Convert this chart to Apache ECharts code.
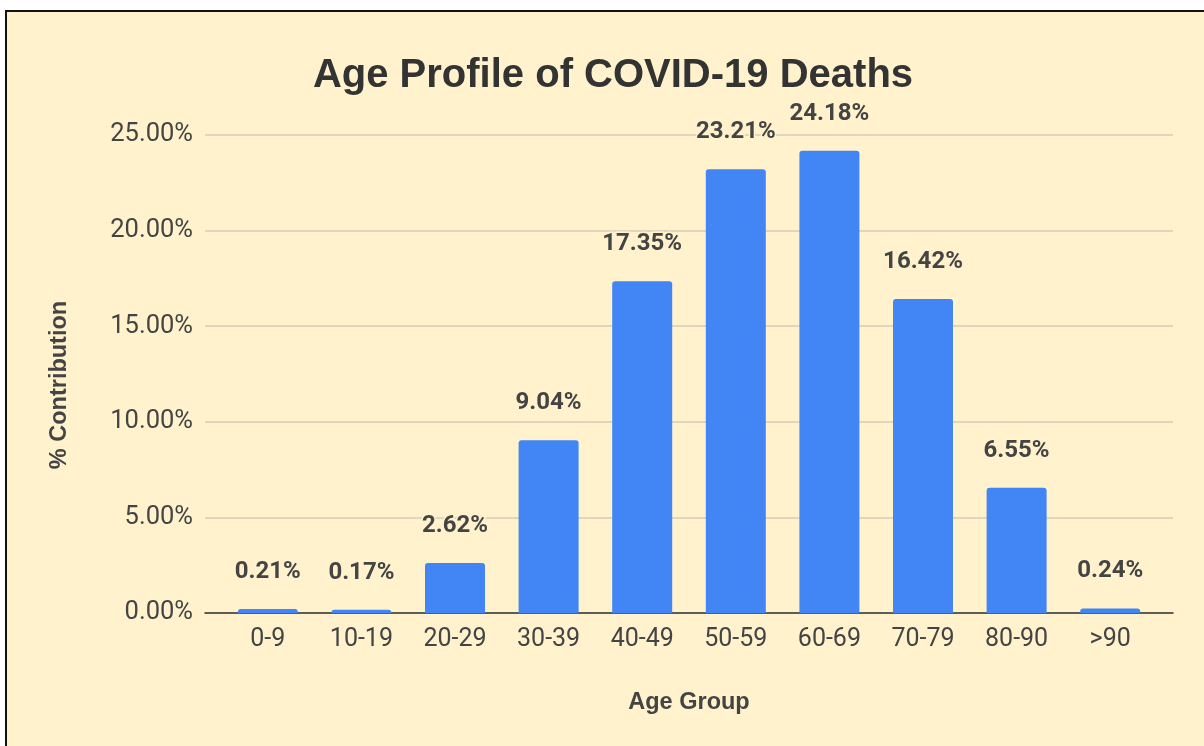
<!DOCTYPE html>
<html>
<head>
<meta charset="utf-8">
<script src="https://cdn.jsdelivr.net/npm/echarts@6/dist/echarts.min.js"></script>
<style>
  html, body { margin: 0; padding: 0; background: #ffffff; width: 1204px; height: 746px; overflow: hidden; }
  #bg { position: absolute; left: 5px; top: 10px; width: 1199px; height: 736px; background: #FFF2CC; border-left: 2px solid #111; border-top: 2px solid #111; box-sizing: border-box; }
  #chart { position: absolute; left: 0; top: 0; width: 1204px; height: 746px; }
</style>
</head>
<body>
<div id="bg"></div>
<div id="chart"></div>
<script>
const categories = ['0-9', '10-19', '20-29', '30-39', '40-49', '50-59', '60-69', '70-79', '80-90', '>90'];
const values = [0.21, 0.17, 2.62, 9.04, 17.35, 23.21, 24.18, 16.42, 6.55, 0.24];
const yTicks = [0, 5, 10, 15, 20, 25];

const chart = echarts.init(document.getElementById('chart'), null, { renderer: 'canvas' });
const yMin = yTicks[0], yMax = yTicks[yTicks.length - 1], yStep = yTicks[1] - yTicks[0];

chart.setOption({
  backgroundColor: 'transparent',
  animation: false,
  title: {
    text: 'Age Profile of COVID-19 Deaths',
    left: 608, top: 51, textAlign: 'center',
    textStyle: { fontFamily: 'Liberation Sans, Arial, sans-serif', fontWeight: 'bold', fontSize: 40, color: '#333333' }
  },
  grid: [
    { left: 205, right: 31, top: 135, bottom: 133 },
    { left: 221, right: 47, top: 135, bottom: 133 }
  ],
  xAxis: [
    { gridIndex: 0, type: 'category', data: [''], axisLine: { show: true, lineStyle: { color: '#333333', width: 1.5 } },
      axisTick: { show: false }, axisLabel: { show: false }, splitLine: { show: false } },
    { gridIndex: 1, type: 'category', data: categories,
      axisLine: { show: false }, axisTick: { show: false },
      axisLabel: { margin: 14, fontFamily: 'Roboto, sans-serif', fontSize: 25, color: '#444444' },
      name: 'Age Group', nameLocation: 'middle', nameGap: 78,
      nameTextStyle: { fontFamily: 'Liberation Sans, Arial, sans-serif', fontWeight: 'bold', fontSize: 23.5, color: '#444444' } }
  ],
  yAxis: [
    { gridIndex: 0, type: 'value', min: yMin, max: yMax, interval: yStep,
      axisLine: { show: false }, axisTick: { show: false },
      axisLabel: { margin: 12, fontFamily: 'Roboto, sans-serif', fontSize: 25.5, color: '#444444',
        formatter: v => v.toFixed(2) + '%' },
      splitLine: { show: true, lineStyle: { color: '#D5CDB6', width: 1.5 } },
      name: '% Contribution', nameLocation: 'middle', nameGap: 133,
      nameTextStyle: { fontFamily: 'Liberation Sans, Arial, sans-serif', fontWeight: 'bold', fontSize: 23.5, color: '#444444', padding: [0, 22, 0, 0] } },
    { gridIndex: 1, type: 'value', min: yMin, max: yMax, interval: yStep, show: false, splitLine: { show: false } }
  ],
  series: [{
    type: 'bar', xAxisIndex: 1, yAxisIndex: 1,
    data: values, barWidth: 60,
    itemStyle: { color: '#4285F4', borderRadius: [3, 3, 0, 0] },
    label: {
      show: true, position: 'top', distance: 25,
      formatter: p => p.value.toFixed(2) + '%',
      fontFamily: 'Roboto, sans-serif', fontWeight: 'bold', fontSize: 24, color: '#444444',
      textBorderColor: '#FFF2CC', textBorderWidth: 3
    }
  }]
});
</script>
</body>
</html>
